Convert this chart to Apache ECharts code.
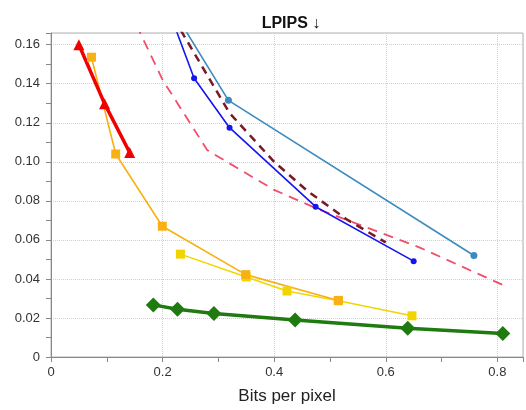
<!DOCTYPE html>
<html>
<head>
<meta charset="utf-8">
<script src="https://cdn.jsdelivr.net/npm/echarts@6/dist/echarts.min.js"></script>
<style>
  html, body { margin: 0; padding: 0; background: #fff; }
  #chart { width: 526px; height: 410px; }
</style>
</head>
<body>
<div id="chart"></div>
<script>
// values (bits per pixel / LPIPS)
var redBpp = [0.05, 0.096, 0.141];
var redLpips = [0.160, 0.1298, 0.1048];

var orangeBpp = [0.0725, 0.116, 0.1995, 0.349, 0.515];
var orangeLpips = [0.1536, 0.104, 0.067, 0.0422, 0.029];

var yellowBpp = [0.232, 0.35, 0.423, 0.515, 0.647];
var yellowLpips = [0.0527, 0.041, 0.0338, 0.0288, 0.0211];

var greenBpp = [0.1834, 0.2267, 0.292, 0.4376, 0.6394, 0.8098];
var greenLpips = [0.0267, 0.0245, 0.0223, 0.0189, 0.0147, 0.012];

var blueBpp = [0.2, 0.2565, 0.32, 0.4743, 0.65];
var blueLpips = [0.186, 0.1428, 0.1175, 0.077, 0.0491];

var tealBpp = [0.2, 0.318, 0.758];
var tealLpips = [0.1865, 0.1315, 0.052];

var maroonBpp = [0.22, 0.32, 0.40, 0.46, 0.53, 0.60];
var maroonLpips = [0.1735, 0.125, 0.100, 0.085, 0.0705, 0.0587];

var pinkBpp = [0.14, 0.20, 0.28, 0.40, 0.48, 0.66, 0.82];
var pinkLpips = [0.178, 0.142, 0.106, 0.0856, 0.0756, 0.0562, 0.0356];

function pairs(xs, ys) {
    var out = [];
    for (var i = 0; i < xs.length; i++) out.push([xs[i], ys[i]]);
    return out;
}

function lineSeries(name, xs, ys, color, width, symbol, size, dash) {
    return {
        name: name,
        type: 'line',
        data: pairs(xs, ys),
        symbol: symbol || 'none',
        symbolSize: size || 0,
        showSymbol: !!symbol,
        clip: true,
        animation: false,
        itemStyle: {color: color},
        lineStyle: {color: color, width: width, type: dash || 'solid'}
    };
}

var chart = echarts.init(document.getElementById('chart'));
var option = {
    animation: false,
    title: {
        text: 'LPIPS \u2193',
        left: 286,
        textAlign: 'center',
        top: 11,
        textStyle: {fontFamily: 'Liberation Sans', fontSize: 16, fontWeight: 'bold', color: '#111'}
    },
    grid: {left: 51, right: 0, top: 33, bottom: 49, show: true, borderColor: '#b0b0b0', borderWidth: 1},
    xAxis: {
        type: 'value',
        min: 0,
        max: 0.846,
        interval: 0.2,
        name: 'Bits per pixel',
        nameLocation: 'middle',
        nameGap: 31,
        nameTextStyle: {fontFamily: 'Liberation Sans', fontSize: 17, color: '#222'},
        axisLine: {lineStyle: {color: '#888'}},
        axisTick: {show: true, length: 5, lineStyle: {color: '#888'}},
        minorTick: {show: true, splitNumber: 2, length: 5, lineStyle: {color: '#888'}},
        axisLabel: {
            fontFamily: 'Liberation Sans', fontSize: 13, color: '#333', margin: 9,
            formatter: function (v) {
                var r = Math.round(v * 10) / 10;
                if (Math.abs(v - r) > 1e-6 || Math.round(r * 10) % 2 !== 0) return '';
                return r === 0 ? '0' : r.toFixed(1);
            }
        },
        splitLine: {show: true, lineStyle: {color: '#cfcfcf', type: 'dotted'}}
    },
    yAxis: {
        type: 'value',
        min: 0,
        max: 0.166,
        interval: 0.02,
        axisLine: {show: true, lineStyle: {color: '#888'}},
        axisTick: {show: true, length: 5, lineStyle: {color: '#888'}},
        minorTick: {show: true, splitNumber: 2, length: 5, lineStyle: {color: '#888'}},
        axisLabel: {
            fontFamily: 'Liberation Sans', fontSize: 13, color: '#333', margin: 11,
            formatter: function (v) {
                var r = Math.round(v * 50) / 50;
                if (Math.abs(v - r) > 1e-6) return '';
                return r === 0 ? '0' : r.toFixed(2);
            }
        },
        splitLine: {show: true, lineStyle: {color: '#cfcfcf', type: 'dotted'}}
    },
    series: [
        lineSeries('pink', pinkBpp, pinkLpips, '#ef4f6c', 1.8, null, 0, [10, 7]),
        lineSeries('maroon', maroonBpp, maroonLpips, '#7a1a24', 2.5, null, 0, [8, 6]),
        lineSeries('teal', tealBpp, tealLpips, '#3a8cc0', 1.6, 'circle', 7),
        lineSeries('blue', blueBpp, blueLpips, '#1515ee', 1.6, 'circle', 6),
        lineSeries('yellow', yellowBpp, yellowLpips, '#f2d500', 1.5, 'rect', 9),
        lineSeries('orange', orangeBpp, orangeLpips, '#f8b014', 1.6, 'rect', 9),
        lineSeries('green', greenBpp, greenLpips, '#1f7a10', 3.5, 'diamond', 15),
        lineSeries('red', redBpp, redLpips, '#f00000', 3.5, 'triangle', 11)
    ]
};
chart.setOption(option);
</script>
</body>
</html>
